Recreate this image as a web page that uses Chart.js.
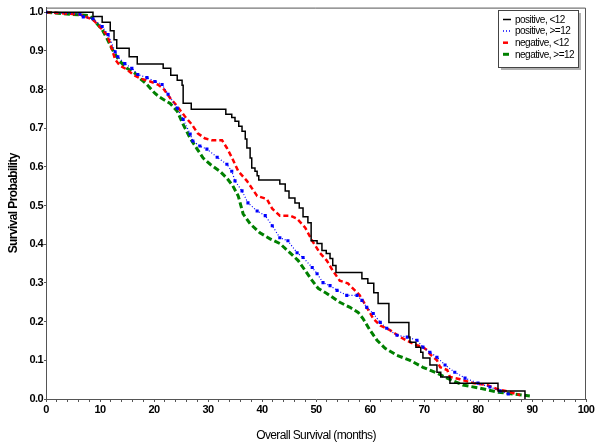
<!DOCTYPE html>
<html>
<head>
<meta charset="utf-8">
<script src="https://cdn.jsdelivr.net/npm/chart.js"></script>
<style>
  body { margin: 0; background: #fff; }
</style>
</head>
<body>
<canvas id="kmChart" width="600" height="448"></canvas>
<script>
// Kaplan-Meier curves (months, survival probability)
const posLtMonths = [0, 8.7, 10.4, 11.9, 12.6, 13.1, 15.4, 16.9, 21.7, 23.1, 24.3, 25.2, 25.4, 26.9, 33.3, 34.4, 35.0, 35.7, 36.3, 36.9, 37.2, 37.8, 38.1, 38.7, 39.1, 39.4, 43.3, 44.3, 45.0, 46.1, 46.9, 47.6, 48.5, 49.1, 50.2, 51.1, 51.9, 52.6, 53.1, 53.7, 58.5, 59.6, 60.7, 61.5, 63.5, 67.2, 67.4, 68.5, 69.4, 69.8, 71.1, 72.4, 73.1, 74.8, 83.7, 88.7];
const posLtSurv = [1.0, 0.989, 0.974, 0.952, 0.929, 0.907, 0.885, 0.866, 0.855, 0.837, 0.824, 0.811, 0.765, 0.749, 0.736, 0.728, 0.718, 0.705, 0.692, 0.672, 0.649, 0.623, 0.597, 0.589, 0.577, 0.566, 0.556, 0.538, 0.520, 0.507, 0.494, 0.471, 0.456, 0.409, 0.402, 0.384, 0.376, 0.363, 0.345, 0.327, 0.311, 0.299, 0.275, 0.247, 0.198, 0.160, 0.147, 0.134, 0.121, 0.106, 0.088, 0.069, 0.057, 0.041, 0.021, 0.0];

const posGeMonths = [0, 6.3, 6.9, 8.7, 10.4, 11.5, 12.8, 13.3, 14.6, 15.9, 17.0, 18.7, 20.2, 21.5, 22.6, 24.3, 25.4, 26.7, 27.2, 28.5, 29.8, 31.7, 33.5, 34.4, 35.0, 36.3, 37.4, 39.1, 40.6, 41.9, 43.3, 44.8, 46.5, 47.6, 49.3, 50.2, 51.3, 52.6, 53.9, 55.7, 57.6, 58.5, 59.4, 60.6, 61.9, 63.1, 65.0, 66.9, 68.7, 69.8, 71.1, 72.4, 73.9, 75.7, 77.6, 80.0, 82.2, 84.1, 85.6];
const posGeSurv = [1.0, 0.995, 0.988, 0.983, 0.963, 0.942, 0.898, 0.885, 0.867, 0.855, 0.839, 0.831, 0.821, 0.813, 0.788, 0.752, 0.723, 0.685, 0.667, 0.654, 0.646, 0.625, 0.607, 0.589, 0.564, 0.538, 0.507, 0.486, 0.474, 0.448, 0.417, 0.409, 0.378, 0.366, 0.340, 0.324, 0.301, 0.293, 0.281, 0.268, 0.268, 0.255, 0.237, 0.221, 0.198, 0.183, 0.165, 0.160, 0.152, 0.134, 0.121, 0.108, 0.088, 0.069, 0.054, 0.041, 0.031, 0.021, 0.013];

const negLtMonths = [0, 6.3, 8.1, 8.7, 11.3, 12.2, 12.8, 13.7, 15.0, 16.1, 17.4, 19.3, 20.7, 21.7, 23.0, 24.3, 25.7, 27.0, 28.1, 29.4, 30.7, 32.6, 33.5, 34.4, 35.0, 35.6, 37.2, 39.1, 40.9, 41.9, 43.3, 45.2, 46.5, 48.0, 49.3, 50.7, 52.0, 53.1, 54.4, 55.9, 57.2, 58.1, 59.4, 60.6, 61.9, 63.7, 65.6, 67.4, 68.7, 69.8, 70.6, 71.1, 72.4, 73.0, 74.3, 74.8, 76.7, 79.1, 81.7, 83.5, 85.9, 87.8];
const negLtSurv = [1.0, 0.994, 0.984, 0.981, 0.942, 0.906, 0.878, 0.862, 0.852, 0.839, 0.829, 0.821, 0.813, 0.803, 0.778, 0.757, 0.731, 0.710, 0.687, 0.674, 0.669, 0.669, 0.649, 0.625, 0.607, 0.589, 0.564, 0.525, 0.517, 0.492, 0.474, 0.474, 0.466, 0.443, 0.409, 0.378, 0.358, 0.332, 0.306, 0.299, 0.281, 0.268, 0.237, 0.208, 0.190, 0.178, 0.160, 0.147, 0.139, 0.134, 0.126, 0.116, 0.100, 0.082, 0.075, 0.057, 0.051, 0.041, 0.036, 0.026, 0.018, 0.010];

const negGeMonths = [0, 8.1, 9.1, 10.4, 11.3, 12.2, 12.8, 13.7, 15.0, 16.5, 17.4, 18.7, 20.2, 21.1, 23.0, 24.3, 25.4, 26.7, 28.0, 29.1, 30.4, 32.2, 33.5, 34.6, 35.6, 36.5, 37.8, 39.6, 41.5, 43.3, 45.2, 46.7, 48.0, 49.3, 50.4, 52.0, 54.4, 56.3, 57.8, 58.7, 60.0, 61.3, 62.8, 65.0, 67.4, 69.8, 72.4, 74.3, 77.2, 80.4, 83.5, 86.5, 89.6];
const negGeSurv = [1.0, 0.991, 0.976, 0.955, 0.932, 0.906, 0.891, 0.873, 0.855, 0.842, 0.829, 0.813, 0.790, 0.780, 0.764, 0.744, 0.710, 0.674, 0.646, 0.623, 0.607, 0.589, 0.571, 0.551, 0.525, 0.479, 0.453, 0.430, 0.414, 0.402, 0.378, 0.358, 0.332, 0.306, 0.286, 0.273, 0.250, 0.237, 0.224, 0.208, 0.178, 0.152, 0.131, 0.113, 0.100, 0.082, 0.067, 0.054, 0.036, 0.028, 0.018, 0.013, 0.008];

const seriesLabels = ["positive, <12", "positive, >=12", "negative, <12", "negative, >=12"];
const xTickLabels = [0, 10, 20, 30, 40, 50, 60, 70, 80, 90, 100];
const yTickLabels = [0.0, 0.1, 0.2, 0.3, 0.4, 0.5, 0.6, 0.7, 0.8, 0.9, 1.0];

const FONT = "'Liberation Sans', Arial, sans-serif";
const AXIS_COLOR = "#555555";

function toPoints(months, surv) {
  return months.map((m, i) => ({ x: m, y: surv[i] }));
}

// frame round the plot + legend box with shadow
const framePlugin = {
  id: "frame",
  beforeDraw(chart) {
    chart.ctx.letterSpacing = "-0.6px";
  },
  afterDraw(chart) {
    const { ctx, chartArea: a } = chart;
    ctx.save();
    ctx.strokeStyle = AXIS_COLOR;
    ctx.lineWidth = 1;
    ctx.beginPath();
    ctx.moveTo(a.left, a.top + 0.5);
    ctx.lineTo(a.right - 0.5, a.top + 0.5);
    ctx.lineTo(a.right - 0.5, a.bottom);
    ctx.stroke();

    // legend
    const bx = 498, by = 10, bw = 80, bh = 57;
    ctx.fillStyle = "#b0b0b0";
    ctx.fillRect(bx + 3, by + 3, bw, bh);
    ctx.fillStyle = "#ffffff";
    ctx.fillRect(bx, by, bw, bh);
    ctx.strokeStyle = "#444444";
    ctx.strokeRect(bx + 0.5, by + 0.5, bw, bh);
    ctx.font = "10px " + FONT;
    ctx.letterSpacing = "-0.5px";
    ctx.textBaseline = "middle";
    ctx.fillStyle = "#000000";
    chart.data.datasets.forEach((ds, i) => {
      const y = by + 9.5 + i * 11.6;
      ctx.beginPath();
      ctx.strokeStyle = ds.borderColor;
      ctx.lineWidth = Math.max(ds.borderWidth, 1.5);
      ctx.setLineDash(ds.borderDash || []);
      ctx.moveTo(503, y);
      ctx.lineTo(511, y);
      ctx.stroke();
      ctx.setLineDash([]);
      ctx.fillText(ds.label, 515, y + 0.5);
    });
    ctx.restore();
  }
};

const ctx = document.getElementById("kmChart").getContext("2d");
const kmChart = new Chart(ctx, {
  type: "line",
  data: {
    datasets: [
      {
        label: seriesLabels[0],
        data: toPoints(posLtMonths, posLtSurv),
        borderColor: "#000000",
        borderWidth: 1.5,
        stepped: true,
        pointRadius: 0
      },
      {
        label: seriesLabels[1],
        data: toPoints(posGeMonths, posGeSurv),
        borderColor: "#0000ff",
        backgroundColor: "#0000ff",
        borderWidth: 1.2,
        borderDash: [1, 2],
        tension: 0,
        pointRadius: 2.2,
        pointStyle: "rect",
        pointBorderWidth: 0
      },
      {
        label: seriesLabels[2],
        data: toPoints(negLtMonths, negLtSurv),
        borderColor: "#ff0000",
        borderWidth: 2.5,
        borderDash: [5, 3],
        tension: 0,
        pointRadius: 0
      },
      {
        label: seriesLabels[3],
        data: toPoints(negGeMonths, negGeSurv),
        borderColor: "#008000",
        borderWidth: 3,
        borderDash: [6, 3],
        tension: 0,
        pointRadius: 0
      }
    ]
  },
  options: {
    responsive: false,
    animation: false,
    layout: { padding: { top: 6, right: 14, left: 0, bottom: 0 } },
    plugins: {
      legend: { display: false },
      tooltip: { enabled: false }
    },
    scales: {
      x: {
        type: "linear",
        min: 0,
        max: 100,
        afterBuildTicks: (axis) => {
          const t = [];
          for (let v = 0; v <= 100; v += 2) t.push({ value: v });
          axis.ticks = t;
        },
        afterFit: (axis) => { axis.height = 49; },
        ticks: {
          autoSkip: false,
          maxRotation: 0,
          padding: 1,
          color: "#000000",
          font: { family: FONT, size: 11, weight: "bold" },
          callback: (v) => (xTickLabels.includes(v) ? String(v) : "")
        },
        grid: { drawOnChartArea: false, drawTicks: true, tickLength: 3, color: AXIS_COLOR },
        border: { display: true, color: AXIS_COLOR },
        title: {
          display: true,
          text: "Overall Survival (months)",
          color: "#000000",
          font: { family: FONT, size: 12 },
          padding: { top: 0, bottom: 5 }
        }
      },
      y: {
        min: 0,
        max: 1.012,
        afterBuildTicks: (axis) => {
          axis.ticks = yTickLabels.map((v) => ({ value: v }));
        },
        afterFit: (axis) => { axis.width = 46; },
        ticks: {
          padding: 1,
          color: "#000000",
          font: { family: FONT, size: 11, weight: "bold" },
          callback: (v) => v.toFixed(1)
        },
        grid: { drawOnChartArea: false, drawTicks: true, tickLength: 2, color: AXIS_COLOR },
        border: { display: true, color: AXIS_COLOR },
        title: {
          display: true,
          text: "Survival Probability",
          color: "#000000",
          font: { family: FONT, size: 12, weight: "bold" },
          padding: { top: 6, bottom: 0 }
        }
      }
    }
  },
  plugins: [framePlugin]
});
</script>
</body>
</html>
